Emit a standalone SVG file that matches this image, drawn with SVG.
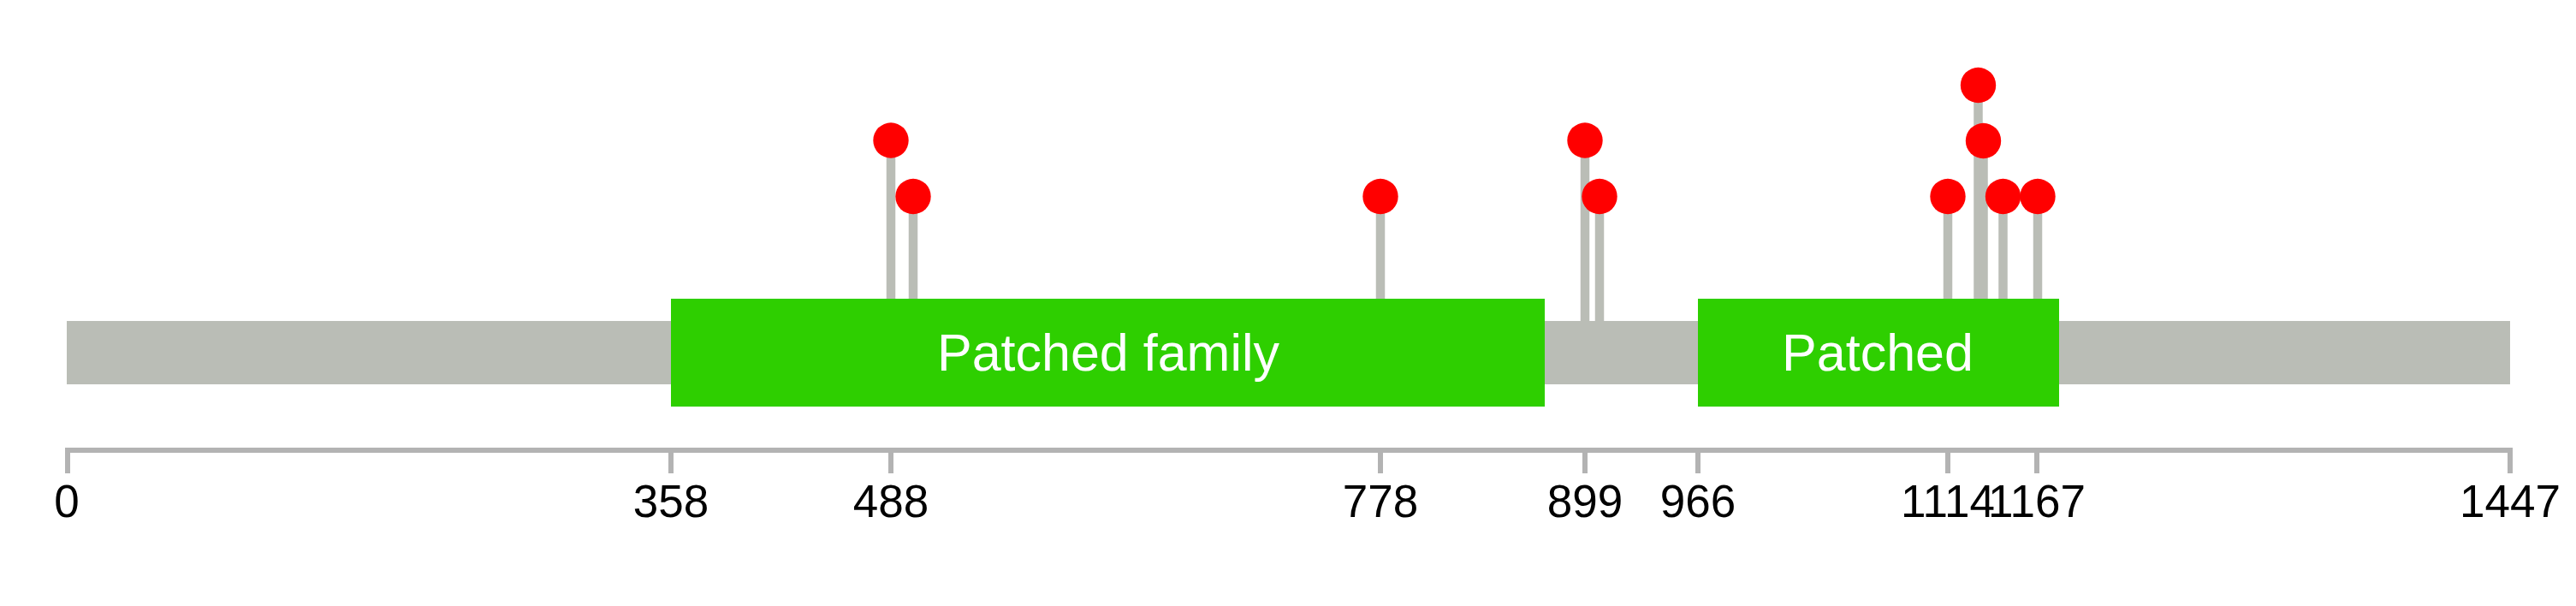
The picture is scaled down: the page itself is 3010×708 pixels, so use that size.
<svg xmlns="http://www.w3.org/2000/svg" width="3010" height="708" viewBox="0 0 3010 708">
<style>
.stem{stroke:#babdb6;stroke-width:10.5}
.dot{fill:#ff0000}
.dom{fill:#2ecf00}
.domtxt{font-family:"Liberation Sans",Arial,sans-serif;font-size:61px;fill:#ffffff;text-anchor:middle}
.axis{stroke:#b3b3b3;stroke-width:6;fill:none}
.lbl{font-family:"Liberation Sans",Arial,sans-serif;font-size:53px;fill:#000000;text-anchor:middle}
</style>
<rect width="3010" height="708" fill="#ffffff"/>
<g id="connectors">
<line class="stem" x1="1041" y1="164" x2="1041" y2="376"/>
<line class="stem" x1="1067" y1="229.5" x2="1067" y2="376"/>
<line class="stem" x1="1613" y1="229.5" x2="1613" y2="376"/>
<line class="stem" x1="1852" y1="164" x2="1852" y2="376"/>
<line class="stem" x1="1869" y1="229.5" x2="1869" y2="376"/>
<line class="stem" x1="2276" y1="229.5" x2="2276" y2="376"/>
<line class="stem" x1="2311.5" y1="99" x2="2311.5" y2="376"/>
<line class="stem" x1="2317.5" y1="164" x2="2317.5" y2="376"/>
<line class="stem" x1="2340.5" y1="229.5" x2="2340.5" y2="376"/>
<line class="stem" x1="2381" y1="229.5" x2="2381" y2="376"/>
</g>
<g id="protein">
<rect x="78" y="375" width="2855" height="74" fill="#babdb6"/>
</g>
<g id="domain-patched-family">
<rect class="dom" x="784" y="349" width="1021" height="126"/>
<text class="domtxt" x="1295" y="433">Patched family</text>
</g>
<g id="domain-patched">
<rect class="dom" x="1984" y="349" width="422" height="126"/>
<text class="domtxt" x="2194" y="433">Patched</text>
</g>
<g id="sites">
<circle class="dot" cx="1041" cy="164" r="20.7"/>
<circle class="dot" cx="1067" cy="229.5" r="20.7"/>
<circle class="dot" cx="1613" cy="229.5" r="20.7"/>
<circle class="dot" cx="1852" cy="164" r="20.7"/>
<circle class="dot" cx="1869" cy="229.5" r="20.7"/>
<circle class="dot" cx="2276" cy="229.5" r="20.7"/>
<circle class="dot" cx="2311.5" cy="99.5" r="20.7"/>
<circle class="dot" cx="2317.5" cy="164.5" r="20.7"/>
<circle class="dot" cx="2340.5" cy="229.5" r="20.7"/>
<circle class="dot" cx="2381" cy="229.5" r="20.7"/>
</g>
<g id="axis">
<line class="axis" x1="76" y1="526" x2="2936" y2="526"/>
<path class="axis" d="M79 523V553M784 526V553M1041 526V553M1613 526V553M1852 526V553M1984 526V553M2276 526V553M2380 526V553M2933 523V553"/>
<text class="lbl" x="78" y="604">0</text>
<text class="lbl" x="784" y="604">358</text>
<text class="lbl" x="1041" y="604">488</text>
<text class="lbl" x="1613" y="604">778</text>
<text class="lbl" x="1852" y="604">899</text>
<text class="lbl" x="1984" y="604">966</text>
<text class="lbl" x="2276" y="604">1114</text>
<text class="lbl" x="2380" y="604">1167</text>
<text class="lbl" x="2933" y="604">1447</text>
</g>
</svg>
